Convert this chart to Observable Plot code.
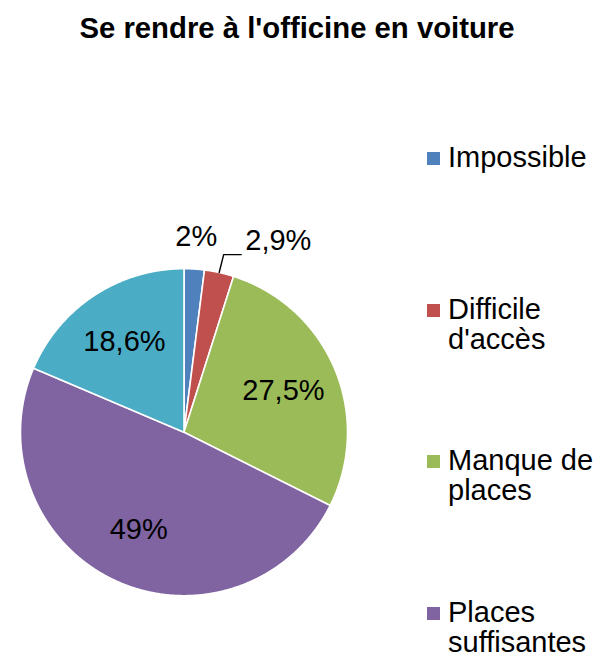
<!DOCTYPE html>
<html>
<head>
<meta charset="utf-8">
<script src="https://cdn.jsdelivr.net/npm/d3@7"></script>
<script src="https://cdn.jsdelivr.net/npm/@observablehq/plot@0.6"></script>
<style>
  body { margin: 0; background: #fff; }
  #wrap { position: relative; width: 611px; height: 657px; overflow: hidden;
          font-family: "Liberation Sans", Arial, sans-serif; color: #000; }
  #chart { position: absolute; left: 0; top: 0; }
  #title { position: absolute; left: 0; width: 594px; top: 13px; text-align: center;
           font-weight: bold; font-size: 29.3px; line-height: 29px; white-space: nowrap; }
  .leg { position: absolute; left: 427px; font-size: 29px; line-height: 30px; }
  .sw { position: absolute; left: 0; top: 10px; width: 13px; height: 13px; }
  .lt { position: absolute; left: 21px; white-space: nowrap; }
</style>
</head>
<body>
<div id="wrap">
  <div id="chart"></div>
  <div id="title"></div>
  <div id="legend"></div>
</div>
<script>
// ---- data ----
const title = "Se rendre à l'officine en voiture";
const categories = ["Impossible", "Difficile d'accès", "Manque de places", "Places suffisantes", "Autre"];
const values = [2, 2.9, 27.5, 49, 18.6];
const valueLabels = ["2%", "2,9%", "27,5%", "49%", "18,6%"];
const colors = ["#4F81BD", "#C0504D", "#9BBB59", "#8064A2", "#4BACC6"];
const legendLines = [["Impossible"], ["Difficile", "d'accès"], ["Manque de", "places"], ["Places", "suffisantes"]];

// ---- layout ----
const W = 611, H = 657;
const CX = 183.5, CY = 431.7, R = 163.5;
const FS = 29;
const FONT = "'Liberation Sans', Arial, sans-serif";

const ctx = document.createElement("canvas").getContext("2d");
ctx.font = `${FS}px ${FONT}`;
const measure = s => ctx.measureText(s).width;

const rows = categories.map((c, i) => ({category: c, value: values[i], label: valueLabels[i]}));
const arcs = d3.pie().sort(null).value(d => d.value)(rows);

// slice polygons in unit coordinates (y up)
const polys = [];
for (const a of arcs) {
  const c = a.data.category;
  polys.push({category: c, x: 0, y: 0});
  const n = Math.max(2, Math.ceil((a.endAngle - a.startAngle) / (Math.PI / 720)));
  for (let j = 0; j <= n; j++) {
    const t = a.startAngle + (a.endAngle - a.startAngle) * j / n;
    polys.push({category: c, x: Math.sin(t), y: Math.cos(t)});
  }
  polys.push({category: c, x: 0, y: 0});
}

// labels
const labelPts = [];
const leaders = [];
let prevRight = -Infinity;
arcs.forEach((a, i) => {
  const mid = (a.startAngle + a.endAngle) / 2;
  const outside = a.data.value < 5;
  const k = outside ? 1.2 : 0.66;
  let cx = k * R * Math.sin(mid), cy = k * R * Math.cos(mid);
  const w = measure(a.data.label);
  if (outside) {
    let left = cx - w / 2;
    if (left < prevRight + 6) {
      left = prevRight + 28;
      cx = left + w / 2;
      const p0 = {x: R * Math.sin(mid), y: R * Math.cos(mid)};
      const ey = cy - 14;
      [[p0.x, p0.y], [p0.x + 4.5, ey], [left - 4, ey]].forEach(([x, y]) =>
        leaders.push({id: i, x: x / R, y: y / R}));
    }
    prevRight = cx + w / 2;
  }
  labelPts.push({x: cx / R, y: cy / R, text: a.data.label});
});

const plot = Plot.plot({
  width: W, height: H,
  marginTop: 0, marginRight: 0, marginBottom: 0, marginLeft: 0,
  x: {domain: [-1, 1], range: [CX - R, CX + R], axis: null},
  y: {domain: [-1, 1], range: [CY + R, CY - R], axis: null},
  color: {domain: categories, range: colors},
  style: {fontFamily: FONT, background: "transparent"},
  marks: [
    Plot.line(polys, {x: "x", y: "y", z: "category", fill: "category",
                      stroke: "white", strokeWidth: 1.6, strokeLinejoin: "round", curve: "linear"}),
    Plot.line(leaders, {x: "x", y: "y", z: "id", stroke: "black", strokeWidth: 1.4}),
    Plot.text(labelPts, {x: "x", y: "y", text: "text", fontSize: FS, fill: "black",
                         textAnchor: "middle", lineAnchor: "middle"})
  ]
});
document.getElementById("chart").appendChild(plot);

document.getElementById("title").textContent = title;

const legend = document.getElementById("legend");
const legTop0 = 142, legStep = 151.5;
legendLines.forEach((lines, i) => {
  const item = document.createElement("div");
  item.className = "leg";
  item.style.top = (legTop0 + i * legStep) + "px";
  const sw = document.createElement("div");
  sw.className = "sw";
  sw.style.background = colors[i];
  const lt = document.createElement("div");
  lt.className = "lt";
  lt.innerHTML = lines.map(l => l.replace(/&/g, "&amp;").replace(/</g, "&lt;")).join("<br>");
  item.appendChild(sw);
  item.appendChild(lt);
  legend.appendChild(item);
});
</script>
</body>
</html>
